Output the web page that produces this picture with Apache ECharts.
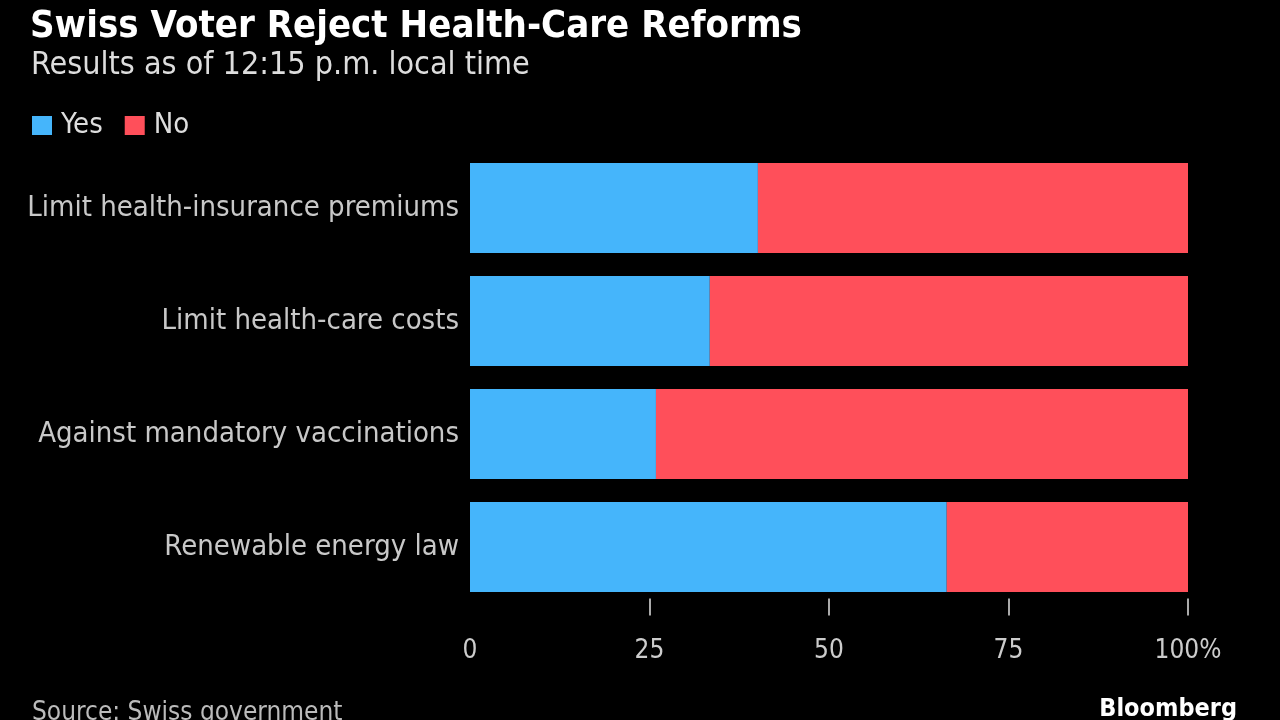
<!DOCTYPE html>
<html><head><meta charset="utf-8">
<script src="https://cdn.jsdelivr.net/npm/echarts@6/dist/echarts.min.js"></script>
<style>html,body{margin:0;padding:0;background:#000;}#c{width:1280px;height:720px;}</style>
</head><body><div id="c"></div>
<script>
const categories = ["Limit health-insurance premiums", "Limit health-care costs", "Against mandatory vaccinations", "Renewable energy law"];
const yesValues = [40.1, 33.4, 25.9, 66.4];
const noValues = [59.9, 66.6, 74.1, 33.6];
const tickValues = [0, 25, 50, 75, 100];
const tickMarks = [25, 50, 75, 100];

const FONT = "'DejaVu Sans Condensed', 'DejaVu Sans', sans-serif";
const chart = echarts.init(document.getElementById('c'));
chart.setOption({
  backgroundColor: '#000',
  animation: false,
  title: [
    { text: 'Swiss Voter Reject Health-Care Reforms', left: 25, top: 3,
      textStyle: { color: '#fff', fontSize: 38, fontWeight: 'bold', fontFamily: FONT } },
    { text: 'Results as of 12:15 p.m. local time', left: 26, top: 45,
      textStyle: { color: '#ddd', fontSize: 32, fontWeight: 'normal', fontFamily: FONT } },
    { text: 'Source: Swiss government', left: 27, top: 695,
      textStyle: { color: '#bbb', fontSize: 26, fontWeight: 'normal', fontFamily: FONT } },
    { text: 'Bloomberg', right: 38, top: 692,
      textStyle: { color: '#fff', fontSize: 25, fontWeight: 'bold', fontFamily: FONT } }
  ],
  legend: {
    left: 27, top: 106, itemWidth: 20, itemHeight: 19, itemGap: 22, icon: 'rect',
    textStyle: { color: '#ddd', fontSize: 29, fontFamily: FONT, padding: [0, 0, 0, 4] },
    data: ['Yes', 'No']
  },
  grid: { left: 470, right: 92, top: 151.5, bottom: 116.5, containLabel: false },
  xAxis: {
    type: 'value', min: 0, max: 100, interval: 25, offset: -5,
    axisLine: { show: false },
    axisTick: { show: true, length: 17, lineStyle: { color: '#aaa', width: 2 }, customValues: tickMarks },
    splitLine: { show: false },
    axisLabel: { color: '#ccc', fontSize: 26, fontFamily: FONT, margin: 40, customValues: tickValues,
      formatter: v => v === 100 ? '100%' : String(v) }
  },
  yAxis: {
    type: 'category', data: categories, inverse: true,
    axisLine: { show: false }, axisTick: { show: false },
    axisLabel: { color: '#c8c8c8', fontSize: 29, fontFamily: FONT, margin: 11 }
  },
  series: [
    { name: 'Yes', type: 'bar', stack: 'a', data: yesValues, barWidth: 90, itemStyle: { color: '#45B5FB' } },
    { name: 'No', type: 'bar', stack: 'a', data: noValues, barWidth: 90, itemStyle: { color: '#FF4F5A' } }
  ]
});
</script></body></html>
